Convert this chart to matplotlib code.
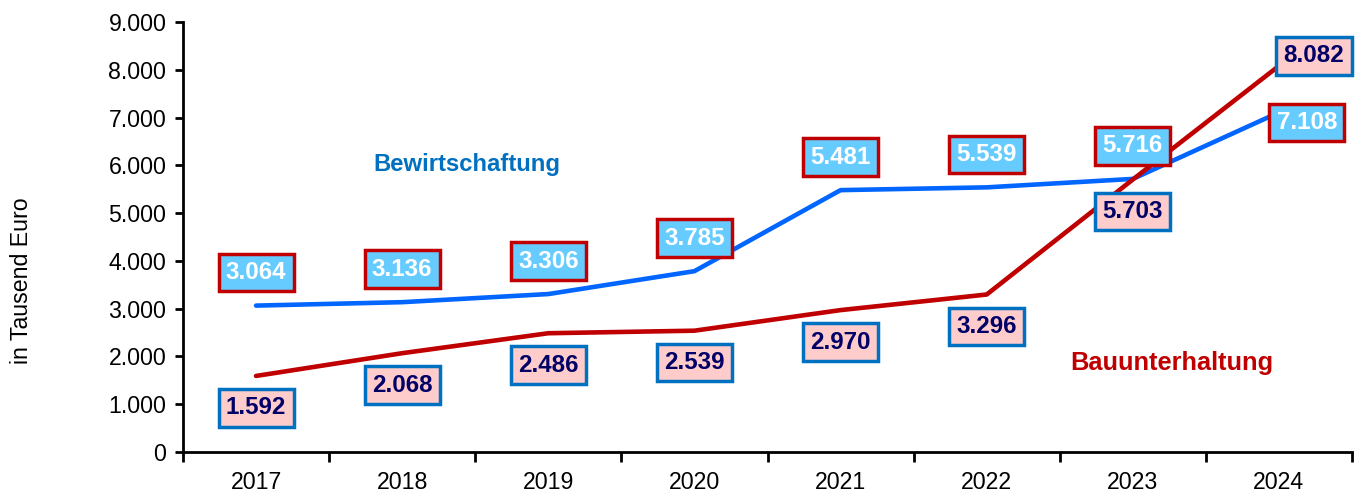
import matplotlib
matplotlib.use("Agg")
import matplotlib.pyplot as plt
from matplotlib.ticker import FuncFormatter, FixedLocator

plt.rcParams['font.family'] = ['Liberation Sans', 'DejaVu Sans']

years = ["2017", "2018", "2019", "2020", "2021", "2022", "2023", "2024"]
bewirtschaftung = [3064, 3136, 3306, 3785, 5481, 5539, 5716, 7108]
bauunterhaltung = [1592, 2068, 2486, 2539, 2970, 3296, 5703, 8082]

BLUE_LINE = "#0066FF"
RED_LINE = "#C00000"
BLUE_FILL = "#66CCFF"
PINK_FILL = "#FFCCCC"
EDGE_BLUE = "#0070C0"
NAVY = "#000066"
FS = 16.7
LFS = 17.4

fig = plt.figure(figsize=(13.6, 4.93), dpi=100)
ax = fig.add_axes([183/1360, 1 - 452/493, (1352 - 183)/1360, (452 - 22)/493])

x = list(range(len(years)))
ax.plot(x, bewirtschaftung, color=BLUE_LINE, lw=3.3, solid_capstyle='round', zorder=3)
ax.plot(x, bauunterhaltung, color=RED_LINE, lw=3.3, solid_capstyle='round', zorder=3)

ax.set_xlim(-0.5, len(years) - 0.5)
ax.set_ylim(0, 9000)

def fmt(v):
    return f"{int(v):,}".replace(",", ".")

ax.yaxis.set_major_locator(FixedLocator(range(0, 9001, 1000)))
ax.yaxis.set_major_formatter(FuncFormatter(lambda v, p: fmt(v)))
ax.set_xticks(x)
ax.set_xticklabels(years)
ax.set_xticks([i - 0.5 for i in range(len(years) + 1)], minor=True)
ax.tick_params(axis='x', which='major', length=0, labelsize=FS, pad=14)
ax.tick_params(axis='x', which='minor', length=7, width=2, direction='out')
ax.tick_params(axis='y', which='major', length=6, width=2, labelsize=FS, pad=6)

for s in ['top', 'right']:
    ax.spines[s].set_visible(False)
for s in ['left', 'bottom']:
    ax.spines[s].set_linewidth(2)
    ax.spines[s].set_color('black')

ax.set_ylabel("in Tausend Euro", fontsize=FS)
ax.yaxis.label.set_va('center')
ax.yaxis.set_label_coords((22 - 183) / 1169, (452 - 281) / 430)

blue_bbox = dict(boxstyle='square,pad=0.3', fc=BLUE_FILL, ec=RED_LINE, lw=2.5)
red_bbox = dict(boxstyle='square,pad=0.3', fc=PINK_FILL, ec=EDGE_BLUE, lw=2.5)

n = len(years)
for i, (b, r) in enumerate(zip(bewirtschaftung, bauunterhaltung)):
    if i == n - 1:
        boff = (28, -10)
        roff = (35, 10)
    else:
        boff = (0, 33)
        roff = (0, -32)
    ax.annotate(fmt(b), (i, b), xytext=boff, textcoords='offset pixels',
                ha='center', va='center', fontsize=LFS, fontweight='bold',
                color='white', bbox=blue_bbox, zorder=5)
    ax.annotate(fmt(r), (i, r), xytext=roff, textcoords='offset pixels',
                ha='center', va='center', fontsize=LFS, fontweight='bold',
                color=NAVY, bbox=red_bbox, zorder=5)

fig.text(467/1360, 1 - 165/493, "Bewirtschaftung", ha='center', va='center',
         fontsize=17.2, fontweight='bold', color=EDGE_BLUE)
fig.text(1172/1360, 1 - 363/493, "Bauunterhaltung", ha='center', va='center',
         fontsize=18.3, fontweight='bold', color=RED_LINE)

fig.savefig("out.png", dpi=100)
